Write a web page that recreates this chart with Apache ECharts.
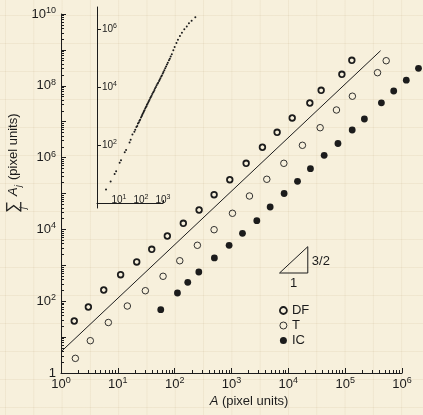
<!DOCTYPE html>
<html>
<head>
<meta charset="utf-8">
<script src="https://cdn.jsdelivr.net/npm/echarts@6/dist/echarts.min.js"></script>
<style>
  html, body { margin: 0; padding: 0; }
  body {
    width: 423px; height: 415px; overflow: hidden;
    background-color: #f7f0dc;
    background-image:
      linear-gradient(to right, rgba(175,145,95,0.10) 1px, transparent 1px),
      linear-gradient(to bottom, rgba(175,145,95,0.10) 1px, transparent 1px);
    background-size: 28.3px 28px;
    background-position: 5px 15px;
  }
  #chart { width: 423px; height: 415px; }
</style>
</head>
<body>
<div id="chart"></div>
<script>
// Cluster area A and cumulative area (pixel units) for each data set
const dfArea = [1.71, 3.03, 5.65, 11.2, 21.5, 39.5, 74.3, 142, 269, 494, 933, 1810, 3500, 6350, 11700, 23900, 37800, 87500, 131000];
const dfSum  = [28.1, 68.9, 205, 547, 1240, 2790, 6550, 14800, 34700, 92700, 242000, 693000, 1.94e6, 5.07e6, 1.27e7, 3.32e7, 7.50e7, 2.09e8, 5.13e8];

const tArea = [1.79, 3.28, 6.81, 14.7, 30.5, 62.5, 123, 251, 494, 1040, 2070, 4180, 8340, 17700, 36300, 70300, 134000, 371000, 527000];
const tSum  = [2.56, 7.94, 25.5, 73.5, 196, 494, 1340, 3610, 9820, 28100, 85100, 249000, 693000, 2.20e6, 6.81e6, 2.12e7, 5.13e7, 2.32e8, 5.00e8];

const icArea = [56.9, 112, 170, 266, 500, 908, 1560, 2790, 4790, 8430, 14500, 24500, 42700, 74700, 133000, 218000, 434000, 715000, 1.19e6, 1.95e6];
const icSum  = [57.9, 169, 336, 650, 1600, 3610, 7780, 17500, 42100, 100000, 219000, 491000, 1.16e6, 2.47e6, 5.88e6, 1.19e7, 3.36e7, 7.16e7, 1.43e8, 3.07e8];

// Power-law guide line (slope 3/2) end points
const guideArea = [1, 4.2e5];
const guideSum  = [3.9, 9.5e8];

// Slope triangle corners (closed path)
const triArea = [7000, 22000, 22000, 7000];
const triSum  = [610, 610, 3300, 610];

// Inset: individual clusters, log10 of area and of cumulative area
const insetLogA = [
  0.41, 0.62, 0.80, 0.87, 1.03, 1.09, 1.26, 1.32, 1.48, 1.53,
  1.61, 1.70, 1.74, 1.79, 1.83, 1.86, 1.90, 1.93, 1.96, 2.00,
  2.03, 2.05, 2.08, 2.11, 2.13, 2.16, 2.19, 2.22, 2.25, 2.27,
  2.30, 2.33, 2.36, 2.39, 2.42, 2.45, 2.48, 2.51, 2.55, 2.58,
  2.61, 2.64, 2.68, 2.71, 2.75, 2.78, 2.82, 2.85, 2.88, 2.92,
  2.95, 2.99, 3.02, 3.06, 3.10, 3.14, 3.18, 3.22, 3.27, 3.31,
  3.35, 3.40, 3.47, 3.53, 3.61, 3.68, 3.77, 3.86, 3.97, 4.08,
  4.18, 4.30, 4.47];
const insetLogSum = [
  0.47, 0.74, 1.00, 1.10, 1.39, 1.48, 1.75, 1.83, 2.09, 2.18,
  2.36, 2.46, 2.53, 2.62, 2.66, 2.74, 2.78, 2.84, 2.87, 2.95,
  2.99, 3.04, 3.08, 3.12, 3.17, 3.20, 3.26, 3.30, 3.34, 3.39,
  3.42, 3.48, 3.52, 3.56, 3.62, 3.66, 3.70, 3.76, 3.81, 3.85,
  3.90, 3.96, 4.00, 4.06, 4.11, 4.15, 4.21, 4.25, 4.30, 4.36,
  4.40, 4.47, 4.52, 4.58, 4.65, 4.71, 4.78, 4.84, 4.92, 4.98,
  5.05, 5.13, 5.27, 5.38, 5.52, 5.63, 5.76, 5.87, 5.99, 6.09,
  6.20, 6.29, 6.41];

// Tick / label decades (powers of ten)
const xDecades = [0, 1, 2, 3, 4, 5, 6];
const yDecades = [0, 1, 2, 3, 4, 5, 6, 7, 8, 9, 10];
const yLabelDecades = [0, 2, 4, 6, 8, 10];
const insetXLabels = [1, 2, 3];
const insetYLabels = [2, 4, 6];

const ink = '#1c1c1c';
const FONT = '"Liberation Sans", Arial, Helvetica, sans-serif';
const lg = Math.log10;

// minor ticks at 2..9 times each decade
function minorTicks(decades, maxExp) {
  const out = [];
  decades.forEach(function (d) {
    for (let k = 2; k <= 9; k++) {
      const v = d + lg(k);
      if (v < maxExp) out.push(v);
    }
  });
  return out;
}

function pairs(xs, ys) { return xs.map(function (x, i) { return [lg(x), lg(ys[i])]; }); }

const powRich = {
  b: { fontSize: 13, fontFamily: FONT, color: ink },
  s: { fontSize: 9, fontFamily: FONT, color: ink, padding: [0, 0, 7, 0] }
};
const powRichSmall = {
  b: { fontSize: 10, fontFamily: FONT, color: ink },
  s: { fontSize: 7, fontFamily: FONT, color: ink, padding: [0, 0, 5, 0] }
};
function powLabel(v) {
  const e = Math.round(v);
  if (e === 0) return '{b|1}';
  return '{b|10}{s|' + e + '}';
}
function powLabelX(v) { return '{b|10}{s|' + Math.round(v) + '}'; }

const chart = echarts.init(document.getElementById('chart'), null, { renderer: 'canvas' });

const noSplit = { show: false };
const axisLineStyle = { lineStyle: { color: ink, width: 1 } };

chart.setOption({
  animation: false,
  backgroundColor: 'transparent',
  grid: [
    { left: 61, right: 21, top: 14, bottom: 42 },
    { left: 97, top: 7, width: 66, height: 201 }
  ],
  xAxis: [
    {
      gridIndex: 0, type: 'value', min: 0, max: 6, interval: 1,
      axisLine: axisLineStyle, splitLine: noSplit,
      axisTick: { inside: true, length: 5, customValues: xDecades, lineStyle: { color: ink, width: 1 } },
      axisLabel: { customValues: xDecades, formatter: powLabelX, rich: powRich, margin: 3 }
    },
    {
      gridIndex: 0, type: 'value', min: 0, max: 6, position: 'bottom',
      axisLine: { show: false }, splitLine: noSplit, axisLabel: { show: false },
      axisTick: { show: true, inside: true, length: 3, customValues: minorTicks([0, 1, 2, 3, 4, 5], 6), lineStyle: { color: ink, width: 1 } }
    },
    {
      gridIndex: 1, type: 'value', min: 0, max: 3,
      axisLine: axisLineStyle, splitLine: noSplit,
      axisTick: { inside: true, length: 3, customValues: [3], lineStyle: { color: ink, width: 1 } },
      axisLabel: { inside: true, customValues: insetXLabels, formatter: powLabelX, rich: powRichSmall, margin: 2 }
    }
  ],
  yAxis: [
    {
      gridIndex: 0, type: 'value', min: 0, max: 10, interval: 1,
      axisLine: axisLineStyle, splitLine: noSplit,
      axisTick: { inside: true, length: 5, customValues: yDecades, lineStyle: { color: ink, width: 1 } },
      axisLabel: { customValues: yLabelDecades, formatter: powLabel, rich: powRich, margin: 5 }
    },
    {
      gridIndex: 0, type: 'value', min: 0, max: 10, position: 'left',
      axisLine: { show: false }, splitLine: noSplit, axisLabel: { show: false },
      axisTick: { show: true, inside: true, length: 3, customValues: minorTicks([0, 1, 2, 3, 4, 5, 6, 7, 8, 9], 10), lineStyle: { color: ink, width: 1 } }
    },
    {
      gridIndex: 1, type: 'value', min: -0.17, max: 6.76,
      axisLine: axisLineStyle, splitLine: noSplit,
      axisTick: { inside: true, length: 4, customValues: insetYLabels, lineStyle: { color: ink, width: 1 } },
      axisLabel: { inside: true, customValues: insetYLabels, formatter: powLabelX, rich: powRichSmall, margin: 5 }
    }
  ],
  legend: {
    orient: 'vertical', left: 279, top: 304, padding: 0,
    itemWidth: 7, itemHeight: 7, itemGap: 2,
    textStyle: { fontSize: 13, fontFamily: FONT, color: ink, lineHeight: 13 },
    data: [
      { name: 'DF', icon: 'circle', itemStyle: { color: 'rgba(0,0,0,0)', borderColor: ink, borderWidth: 1.8 } },
      { name: 'T', icon: 'circle', itemStyle: { color: 'rgba(0,0,0,0)', borderColor: ink, borderWidth: 0.9 } },
      { name: 'IC', icon: 'circle', itemStyle: { color: ink, borderWidth: 0 } }
    ]
  },
  series: [
    {
      name: 'guide', type: 'line', xAxisIndex: 0, yAxisIndex: 0,
      data: pairs(guideArea, guideSum), showSymbol: false, silent: true, clip: false,
      lineStyle: { color: ink, width: 1 }
    },
    {
      name: 'slope', type: 'line', xAxisIndex: 0, yAxisIndex: 0,
      data: pairs(triArea, triSum), showSymbol: false, silent: true, clip: false,
      lineStyle: { color: ink, width: 1 }
    },
    {
      name: 'DF', type: 'scatter', xAxisIndex: 0, yAxisIndex: 0, clip: false,
      data: pairs(dfArea, dfSum), symbol: 'circle', symbolSize: 5.6,
      itemStyle: { color: 'rgba(0,0,0,0)', borderColor: ink, borderWidth: 1.8, opacity: 1 }
    },
    {
      name: 'T', type: 'scatter', xAxisIndex: 0, yAxisIndex: 0, clip: false,
      data: pairs(tArea, tSum), symbol: 'circle', symbolSize: 6.5,
      itemStyle: { color: 'rgba(0,0,0,0)', borderColor: ink, borderWidth: 0.9, opacity: 1 }
    },
    {
      name: 'IC', type: 'scatter', xAxisIndex: 0, yAxisIndex: 0, clip: false,
      data: pairs(icArea, icSum), symbol: 'circle', symbolSize: 6.8,
      itemStyle: { color: ink, opacity: 1 }
    },
    {
      name: 'clusters', type: 'scatter', xAxisIndex: 2, yAxisIndex: 2, clip: false,
      data: insetLogA.map(function (a, i) { return [a, insetLogSum[i]]; }),
      symbol: 'circle', symbolSize: 2, itemStyle: { color: ink, opacity: 1 }
    }
  ]
});

// Text placed from the data coordinates of the slope triangle
const pRight = chart.convertToPixel({ xAxisIndex: 0, yAxisIndex: 0 },
  [lg(triArea[1]), (lg(triSum[1]) + lg(triSum[2])) / 2]);
const pBottom = chart.convertToPixel({ xAxisIndex: 0, yAxisIndex: 0 },
  [(lg(triArea[0]) + lg(triArea[1])) / 2, lg(triSum[0])]);

chart.setOption({
  graphic: [
    {
      type: 'text', x: pRight[0] + 4, y: pRight[1] + 2,
      style: { text: '3/2', font: '13px ' + FONT, fill: ink, align: 'left', verticalAlign: 'middle' }
    },
    {
      type: 'text', x: pBottom[0], y: pBottom[1] + 10,
      style: { text: '1', font: '13px ' + FONT, fill: ink, align: 'center', verticalAlign: 'middle' }
    },
    {
      type: 'text', x: 249, y: 401,
      style: {
        text: '{i|A} (pixel units)', font: '13px ' + FONT, fill: ink, align: 'center', verticalAlign: 'middle',
        rich: { i: { fontStyle: 'italic', fontSize: 13, fontFamily: FONT, color: ink } }
      }
    },
    {
      type: 'group', x: 13, y: 213, rotation: Math.PI / 2,
      children: [
        { type: 'text', x: 0, y: 0, style: { text: '\u2211', font: '17px ' + FONT, fill: ink, align: 'left', verticalAlign: 'middle' } },
        { type: 'text', x: 4, y: 10, style: { text: 'j', font: 'italic 9px ' + FONT, fill: ink, align: 'left', verticalAlign: 'middle' } },
        { type: 'text', x: 17, y: 0, style: { text: 'A', font: 'italic 13px ' + FONT, fill: ink, align: 'left', verticalAlign: 'middle' } },
        { type: 'text', x: 26, y: 5, style: { text: 'j', font: 'italic 9px ' + FONT, fill: ink, align: 'left', verticalAlign: 'middle' } },
        { type: 'text', x: 33, y: 0, style: { text: '(pixel units)', font: '13px ' + FONT, fill: ink, align: 'left', verticalAlign: 'middle' } }
      ]
    }
  ]
});
</script>
</body>
</html>
